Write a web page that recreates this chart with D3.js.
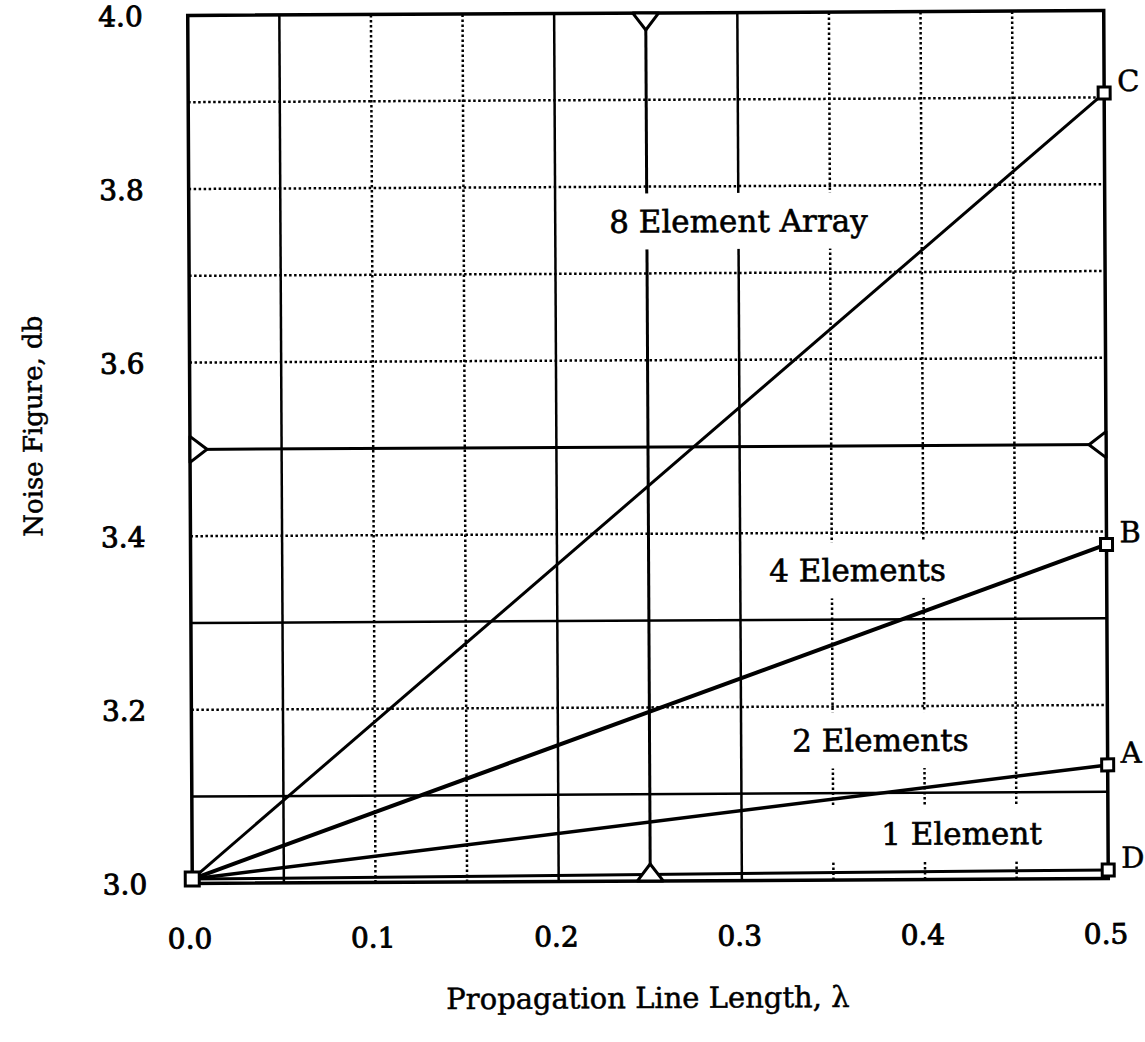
<!DOCTYPE html>
<html>
<head>
<meta charset="utf-8">
<script src="https://cdn.jsdelivr.net/npm/d3@7"></script>
<style>
  body { margin: 0; background: #fff; }
  text { font-family: "DejaVu Serif", "Liberation Serif", serif; fill: #000; stroke: #000; }
</style>
</head>
<body>
<div id="chart"></div>
<script>
// Data
var lengths = [0.0, 0.5];                 // propagation line length, lambda
var nf8 = [3.005, 3.905];                 // 8 element array (C)
var nf4 = [3.005, 3.385];                 // 4 elements (B)
var nf2 = [3.005, 3.131];                 // 2 elements (A)
var nf1 = [3.005, 3.010];                 // 1 element (D)
var seriesNames = ["8 Element Array", "4 Elements", "2 Elements", "1 Element"];
var endLetters = ["C", "B", "A", "D"];

var xTicks = [0.0, 0.1, 0.2, 0.3, 0.4, 0.5];
var yTicks = [3.0, 3.2, 3.4, 3.6, 3.8, 4.0];
var xGridDotted = [0.1, 0.15, 0.35, 0.4, 0.45];
var xGridSolid = [0.05, 0.2, 0.3];
var yGridDotted = [3.2, 3.4, 3.6, 3.7, 3.8, 3.9];
var yGridSolid = [3.1, 3.3];
var xCross = 0.25, yCross = 3.5;

// label anchors in data units
var labelPos = [[0.3, 3.76], [0.364, 3.357], [0.376, 3.161], [0.42, 3.053]];

var svgWidth = 1145;
var svgHeight = 1042;

var svg = d3.select("#chart")
  .append("svg")
  .attr("width", svgWidth)
  .attr("height", svgHeight);

// the scan is tilted a little
var g = svg.append("g")
  .attr("transform", "rotate(-0.3, 648, 447)");

var x = d3.scaleLinear().domain([0, 0.5]).range([190, 1106]);
var y = d3.scaleLinear().domain([3.0, 4.0]).range([881, 13]);

// dotted grid
g.append("g").selectAll("line")
  .data(xGridDotted).enter().append("line")
  .attr("x1", d => x(d)).attr("x2", d => x(d))
  .attr("y1", y(3.0)).attr("y2", y(4.0))
  .attr("stroke", "#000").attr("stroke-width", 2.5)
  .attr("stroke-dasharray", "2.5,2.5");

g.append("g").selectAll("line")
  .data(yGridDotted).enter().append("line")
  .attr("x1", x(0)).attr("x2", x(0.5))
  .attr("y1", d => y(d)).attr("y2", d => y(d))
  .attr("stroke", "#000").attr("stroke-width", 2.5)
  .attr("stroke-dasharray", "2.5,2.5");

// solid grid
g.append("g").selectAll("line")
  .data(xGridSolid.concat([xCross])).enter().append("line")
  .attr("x1", d => x(d)).attr("x2", d => x(d))
  .attr("y1", y(3.0)).attr("y2", y(4.0))
  .attr("stroke", "#000").attr("stroke-width", d => d === xCross ? 3 : 2.5);

g.append("g").selectAll("line")
  .data(yGridSolid.concat([yCross])).enter().append("line")
  .attr("x1", x(0)).attr("x2", x(0.5))
  .attr("y1", d => y(d)).attr("y2", d => y(d))
  .attr("stroke", "#000").attr("stroke-width", d => d === yCross ? 3 : 2.5);

// frame
g.append("rect")
  .attr("x", x(0)).attr("y", y(4.0))
  .attr("width", x(0.5) - x(0)).attr("height", y(3.0) - y(4.0))
  .attr("fill", "none").attr("stroke", "#000").attr("stroke-width", 3.5);

// series labels on white boxes
var labels = g.append("g").selectAll("g")
  .data(seriesNames).enter().append("g")
  .attr("transform", (d, i) => `translate(${x(labelPos[i][0])}, ${y(labelPos[i][1])})`);

var labelText = labels.append("text")
  .attr("text-anchor", "middle")
  .attr("dy", "0.36em")
  .attr("font-size", 31)
  .attr("stroke-width", 0.6)
  .text(d => d);

labelText.each(function(d) {
  var b = this.getBBox();
  var padL = d === "1 Element" ? 55 : 14;
  d3.select(this.parentNode).insert("rect", "text")
    .attr("x", b.x - padL).attr("y", b.y - 10)
    .attr("width", b.width + padL + 14).attr("height", b.height + 20)
    .attr("fill", "#fff").attr("stroke", "none");
});

// series lines
var allSeries = [nf8, nf4, nf2, nf1];
var widths = [3, 4, 3.5, 3];
var line = d3.line().x((d, i) => x(lengths[i])).y(d => y(d));

g.append("g").selectAll("path")
  .data(allSeries).enter().append("path")
  .attr("d", d => line(d))
  .attr("fill", "none")
  .attr("stroke", "#000")
  .attr("stroke-width", (d, i) => widths[i]);

// end markers and letters
g.append("g").selectAll("rect")
  .data(allSeries).enter().append("rect")
  .attr("x", d => x(lengths[1]) - 6).attr("y", d => y(d[1]) - 6)
  .attr("width", 12).attr("height", 12)
  .attr("fill", "#fff").attr("stroke", "#000").attr("stroke-width", 3);

g.append("rect")
  .attr("x", x(lengths[0]) - 7).attr("y", y(nf1[0]) - 7)
  .attr("width", 14).attr("height", 14)
  .attr("fill", "#fff").attr("stroke", "#000").attr("stroke-width", 3);

g.append("g").selectAll("text")
  .data(allSeries).enter().append("text")
  .attr("x", x(lengths[1]) + 13)
  .attr("y", d => y(d[1]) - 2)
  .attr("font-size", 29)
  .attr("stroke-width", 0.5)
  .text((d, i) => endLetters[i]);

// triangle markers at the ends of the cross lines
var tri = [
  [x(xCross), y(4.0), 0],
  [x(xCross), y(3.0), 180],
  [x(0), y(yCross), -90],
  [x(0.5), y(yCross), 90]
];
g.append("g").selectAll("path")
  .data(tri).enter().append("path")
  .attr("transform", d => `translate(${d[0]}, ${d[1]}) rotate(${d[2]})`)
  .attr("d", "M-13,0 L13,0 L0,17 Z")
  .attr("fill", "#fff").attr("stroke", "#000").attr("stroke-width", 3)
  .attr("stroke-linejoin", "round");

// axes
var bottomAxis = d3.axisBottom(x).tickValues(xTicks).tickSize(0).tickPadding(0)
  .tickFormat(d3.format(".1f"));
var leftAxis = d3.axisLeft(y).tickValues(yTicks).tickSize(0).tickPadding(0)
  .tickFormat(d3.format(".1f"));

var xAxisG = g.append("g")
  .attr("transform", "translate(-3, 946)")
  .call(bottomAxis);
xAxisG.select(".domain").remove();
xAxisG.selectAll("text")
  .attr("font-size", 28).attr("font-family", "DejaVu Serif")
  .attr("dy", 0).attr("y", 0).attr("fill", "#000")
  .attr("stroke", "#000").attr("stroke-width", 0.9);

var yAxisG = g.append("g")
  .attr("transform", "translate(145, 0)")
  .call(leftAxis);
yAxisG.select(".domain").remove();
yAxisG.selectAll("text")
  .attr("font-size", 28).attr("font-family", "DejaVu Serif")
  .attr("dy", "0.36em").attr("x", 0).attr("fill", "#000")
  .attr("stroke", "#000").attr("stroke-width", 0.9);

// axis titles
g.append("text")
  .attr("x", 645).attr("y", 1008)
  .attr("text-anchor", "middle")
  .attr("font-size", 29)
  .attr("stroke-width", 0.5)
  .text("Propagation Line Length, λ");

g.append("text")
  .attr("transform", "translate(42, 423) rotate(-90)")
  .attr("text-anchor", "middle")
  .attr("font-size", 26)
  .attr("stroke-width", 0.5)
  .text("Noise Figure, db");
</script>
</body>
</html>
